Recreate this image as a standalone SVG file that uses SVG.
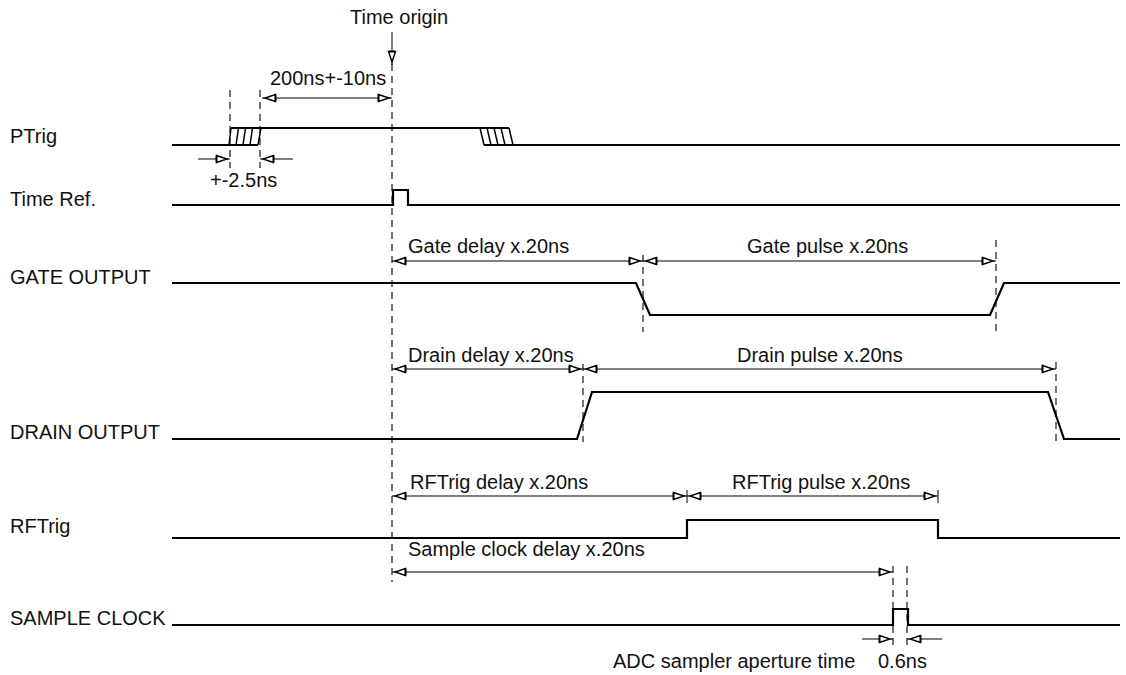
<svg xmlns="http://www.w3.org/2000/svg" width="1126" height="675" viewBox="0 0 1126 675">
<style>
text{font-family:"Liberation Sans",Arial,sans-serif;font-size:20px;fill:#111}
.sig{fill:none;stroke:#000;stroke-width:2.2;stroke-linejoin:miter}
.hat{fill:none;stroke:#000;stroke-width:1.5}
.dash{fill:none;stroke:#000;stroke-width:1.1;stroke-dasharray:7,5}
.dim{fill:none;stroke:#000;stroke-width:1;marker-start:url(#arr);marker-end:url(#arr)}
.one{fill:none;stroke:#000;stroke-width:1;marker-end:url(#arr)}
.tick{stroke:#000;stroke-width:1}
</style>
<defs>
<marker id="arr" markerUnits="userSpaceOnUse" markerWidth="16" markerHeight="10" viewBox="0 0 16 10" refX="15" refY="5" orient="auto-start-reverse">
<path d="M1.5,1.5 L12,5 L1.5,8.5 Z" fill="#fff" stroke="#000" stroke-width="1.4"/>
<path d="M1.5,1.5 L1.5,8.5" stroke="#000" stroke-width="1.8"/>
</marker>
</defs>
<rect width="1126" height="675" fill="#fff"/>

<g id="labels">
<text x="10" y="143">PTrig</text>
<text x="10" y="206">Time Ref.</text>
<text x="10" y="284">GATE OUTPUT</text>
<text x="10" y="439">DRAIN OUTPUT</text>
<text x="10" y="533">RFTrig</text>
<text x="10" y="625">SAMPLE CLOCK</text>
</g>

<g id="ptrig">
<polyline class="sig" points="172,145 258,145"/>
<polyline class="sig" points="231,128 509,128"/>
<path class="hat" d="M229,145 L231,128 M236,145 L238.5,128 M243,145 L245.5,128 M250,145 L252.5,128 M258,145 L261,128"/>
<path class="hat" d="M480,128 L484,145 M487,128 L491,145 M494,128 L498,145 M501,128 L505,145 M509,128 L513,145"/>
<polyline class="sig" points="484,145 1120,145"/>
</g>

<g id="timeref">
<polyline class="sig" points="172,205 393,205 393,190 408,190 408,205 1120,205"/>
</g>

<g id="gate">
<polyline class="sig" points="172,283 636,283 650,315 990,315 1004,283 1120,283"/>
</g>

<g id="drain">
<polyline class="sig" points="172,439 577,439 592,392 1048,392 1064,439 1120,439"/>
</g>

<g id="rftrig">
<polyline class="sig" points="172,538 687,538 687,520 938,520 938,538 1120,538"/>
</g>

<g id="sample">
<polyline class="sig" points="172,625 893,625 893,609 908,609 908,625 1120,625"/>
</g>

<g id="guides">
<line class="dash" x1="392" y1="64" x2="392" y2="582"/>
<line class="dash" x1="230" y1="90" x2="230" y2="168"/>
<line class="dash" x1="260" y1="90" x2="260" y2="168"/>
<line class="dash" x1="643" y1="255" x2="643" y2="332"/>
<line class="dash" x1="996" y1="240" x2="996" y2="332"/>
<line class="dash" x1="583" y1="364" x2="583" y2="442"/>
<line class="dash" x1="1056" y1="362" x2="1056" y2="442"/>
<line class="tick" x1="687" y1="490" x2="687" y2="503"/>
<line class="tick" x1="938" y1="490" x2="938" y2="503"/>
<line class="dash" x1="893" y1="566" x2="893" y2="645"/>
<line class="dash" x1="907" y1="566" x2="907" y2="645"/>
</g>

<g id="connectors">
<line class="one" x1="392" y1="32" x2="392" y2="65"/>
<line class="dim" x1="262" y1="98" x2="392" y2="98"/>
<line class="one" x1="198" y1="159" x2="230" y2="159"/>
<line class="one" x1="293" y1="159" x2="260" y2="159"/>
<line class="dim" x1="392" y1="261" x2="643" y2="261"/>
<line class="dim" x1="643" y1="261" x2="996" y2="261"/>
<line class="dim" x1="392" y1="369" x2="583" y2="369"/>
<line class="dim" x1="583" y1="369" x2="1056" y2="369"/>
<line class="dim" x1="392" y1="496" x2="687" y2="496"/>
<line class="dim" x1="687" y1="496" x2="938" y2="496"/>
<line class="dim" x1="392" y1="572" x2="893" y2="572"/>
<line class="one" x1="862" y1="639" x2="893" y2="639"/>
<line class="one" x1="942" y1="639" x2="907" y2="639"/>
</g>

<g id="annotations">
<text x="350" y="24">Time origin</text>
<text x="270" y="85">200ns+-10ns</text>
<text x="210" y="187">+-2.5ns</text>
<text x="408" y="253">Gate delay x.20ns</text>
<text x="747" y="253">Gate pulse x.20ns</text>
<text x="408" y="362">Drain delay x.20ns</text>
<text x="737" y="362">Drain pulse x.20ns</text>
<text x="410" y="489">RFTrig delay x.20ns</text>
<text x="732" y="489">RFTrig pulse x.20ns</text>
<text x="408" y="556">Sample clock delay x.20ns</text>
<text x="613" y="668">ADC sampler aperture time</text>
<text x="878" y="668">0.6ns</text>
</g>
</svg>
